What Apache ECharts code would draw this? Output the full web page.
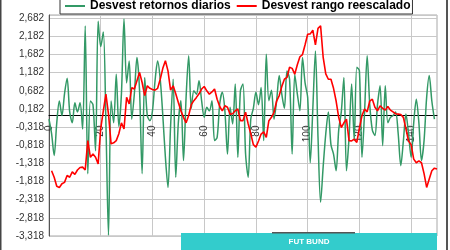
<!DOCTYPE html>
<html>
<head>
<meta charset="utf-8">
<script src="https://cdn.jsdelivr.net/npm/echarts@6/dist/echarts.min.js"></script>
<style>html,body{margin:0;padding:0;background:#fff}#c{width:450px;height:250px}</style>
</head>
<body>
<div id="c"></div>
<script>
const days = Array.from({length: 151}, (_, i) => i);
const seriesNames = ['Desvest retornos diarios', 'Desvest rango reescalado'];
const retornosDiarios = [
 -0.1,-0.5,-1.1,-0.2,0.4,0.0,0.6,1.03,0.1,-0.2,
 0.35,0.1,0.35,-0.37,2.47,-1.6,0.4,0.3,-0.97,2.6,
 1.9,2.3,-0.2,-3.3,0.4,-0.2,1.14,-0.3,0.6,2.66,
 0.9,1.5,-0.1,0.6,1.6,0.7,-1.6,1.05,0.0,-0.14,
 0.13,0.96,1.5,1.0,0.0,-1.15,-1.98,-0.3,1.0,-1.7,
 -0.2,0.41,-1.24,0.5,1.65,0.2,0.68,0.59,0.96,0.41,
 -0.05,0.23,0.13,0.41,-0.69,-0.6,0.32,0.64,0.13,-1.06,
 0.23,-0.23,0.87,-1.15,0.68,0.87,-1.06,-1.7,-0.1,0.2,
 0.64,0.3,0.77,-0.69,1.69,0.41,0.7,-0.1,0.41,1.1,
 0.59,0.2,1.23,1.0,-1.06,1.14,0.6,0.13,1.6,0.9,
 0.5,-1.3,0.2,1.78,-0.6,-2.39,-1.4,-0.5,0.1,-0.8,
 -1.06,-1.52,-0.4,0.1,1.05,-1.52,-0.6,0.87,-0.69,1.33,
 1.23,-1.15,0.1,1.65,0.3,-0.4,-0.55,0.3,0.82,-0.83,
 0.82,-0.2,-0.05,0.0,0.1,-0.5,-1.38,-0.7,0.04,-0.5,
 -1.15,-0.2,0.45,-0.2,-1.24,-0.69,0.5,1.1,0.4,-0.1,'-'
];
const rangoReescalado = [
 '-',-1.52,-1.70,-1.95,-1.98,-1.88,-1.84,-1.65,-1.70,-1.55,
 -1.62,-1.50,-1.43,-1.42,-1.50,-0.69,-1.15,-1.06,-1.15,-1.33,
 -0.35,0.13,0.59,0.04,-0.78,-0.75,-0.69,-0.5,-0.2,-0.37,
 0.5,0.32,0.77,0.73,0.96,1.19,0.91,0.55,0.82,0.75,
 0.72,0.7,0.75,1.0,1.3,1.51,1.23,0.7,0.82,0.6,
 0.36,0.13,-0.05,-0.2,0.0,0.3,0.41,0.5,0.6,0.73,
 0.8,0.68,0.59,0.65,0.73,0.45,0.25,0.13,0.27,0.23,
 0.04,0.05,0.13,0.18,-0.14,-0.14,0.09,-0.23,-0.5,-0.8,
 -0.87,-0.7,-0.51,-0.45,-0.6,-0.14,-0.05,0.09,0.4,0.55,
 0.8,1.0,1.05,1.33,1.3,1.14,1.4,1.62,1.68,1.95,
 2.24,2.25,2.35,1.95,2.4,2.47,1.6,1.15,1.0,1.0,
 0.75,0.4,-0.05,-0.33,-0.2,-0.1,-0.69,-0.7,-0.65,-0.74,
 -0.35,0.0,0.18,0.1,0.4,0.45,0.23,0.13,0.27,0.2,
 0.15,0.25,0.15,0.1,0.05,0.04,0.03,-0.05,-0.37,-0.7,
 -0.8,-1.2,-1.3,-1.25,-1.3,-1.6,-1.98,-1.75,-1.52,-1.45,-1.47
];
const yMin = -3.318, yMax = 2.77, yStep = 0.5;
const footerLabel = 'FUT BUND';

const font = 'Liberation Sans, Arial, sans-serif';
const W = 450, H = 250, gL = 49, gR = 13, gT = 15, gB = 14;
// pixel row of value 0 inside the plot, used to place the tick-label strip on the zero line
const zeroY = gT + (H - gT - gB) * (yMax - 0) / (yMax - yMin);

const chart = echarts.init(document.getElementById('c'), null, {renderer: 'canvas'});
chart.setOption({
  animation: false,
  backgroundColor: '#fff',
  grid: [
    {left: gL, right: gR, top: gT, bottom: gB, containLabel: false, outerBoundsMode: 'none',
     show: true, borderColor: '#a8a8a8', borderWidth: 1, backgroundColor: 'transparent'},
    {left: gL, right: gR, top: gT, bottom: H - zeroY, containLabel: false, outerBoundsMode: 'none', show: false}
  ],
  legend: {
    data: seriesNames,
    left: 60, top: -3,
    padding: [3, 2, 2, 5],
    itemGap: 6, itemWidth: 20, itemHeight: 2,
    icon: 'rect',
    borderColor: '#333', borderWidth: 1, backgroundColor: '#fff',
    textStyle: {fontFamily: font, fontSize: 12, fontWeight: 'bold', color: '#000'}
  },
  xAxis: [
    {
      type: 'category', data: days, boundaryGap: false, gridIndex: 0,
      axisLine: {onZero: true, lineStyle: {color: '#000', width: 1}},
      axisTick: {show: false},
      axisLabel: {show: false},
      splitLine: {show: true, interval: 19, lineStyle: {color: '#c8c8c8', width: 1}}
    },
    {
      type: 'category', data: days, boundaryGap: false, gridIndex: 1,
      axisLine: {show: false}, axisTick: {show: false}, splitLine: {show: false},
      axisLabel: {interval: 19, rotate: 90, margin: 10, fontFamily: font, fontSize: 10, color: '#333'}
    }
  ],
  yAxis: [
    {
      type: 'value', min: yMin, max: yMax, interval: yStep, gridIndex: 0,
      axisLine: {show: true, lineStyle: {color: '#555', width: 1}},
      axisTick: {show: false},
      axisLabel: {showMaxLabel: false, margin: 5, fontFamily: font, fontSize: 10, color: '#333',
        formatter: v => v.toFixed(3).replace('.', ',')},
      splitLine: {show: true, lineStyle: {color: '#c8c8c8', width: 1}}
    },
    {type: 'value', gridIndex: 1, show: false, min: 0, max: 1}
  ],
  series: [
    {name: seriesNames[0], type: 'line', data: retornosDiarios, showSymbol: false, smooth: 0.3,
     lineStyle: {color: '#339966', width: 1.5}, itemStyle: {color: '#339966'}, z: 2},
    {name: seriesNames[1], type: 'line', data: rangoReescalado, showSymbol: false,
     lineStyle: {color: '#ff0000', width: 1.6}, itemStyle: {color: '#ff0000'}, z: 3}
  ],
  graphic: [
    {type: 'rect', shape: {x: 0, y: 0, width: 1.5, height: 250}, style: {fill: '#444'}, z: 100},
    {type: 'rect', shape: {x: 446, y: 0, width: 2, height: 250}, style: {fill: '#555'}, z: 100},
    {type: 'rect', shape: {x: 181, y: 233, width: 256, height: 17}, style: {fill: '#33cccc'}, z: 100},
    {type: 'rect', shape: {x: 272, y: 232, width: 83, height: 1.5}, style: {fill: '#555'}, z: 101},
    {type: 'text', x: 309, y: 242, style: {text: footerLabel, fill: '#fff', font: 'bold 8px ' + font, align: 'center', verticalAlign: 'middle'}, z: 101}
  ]
});
</script>
</body>
</html>
